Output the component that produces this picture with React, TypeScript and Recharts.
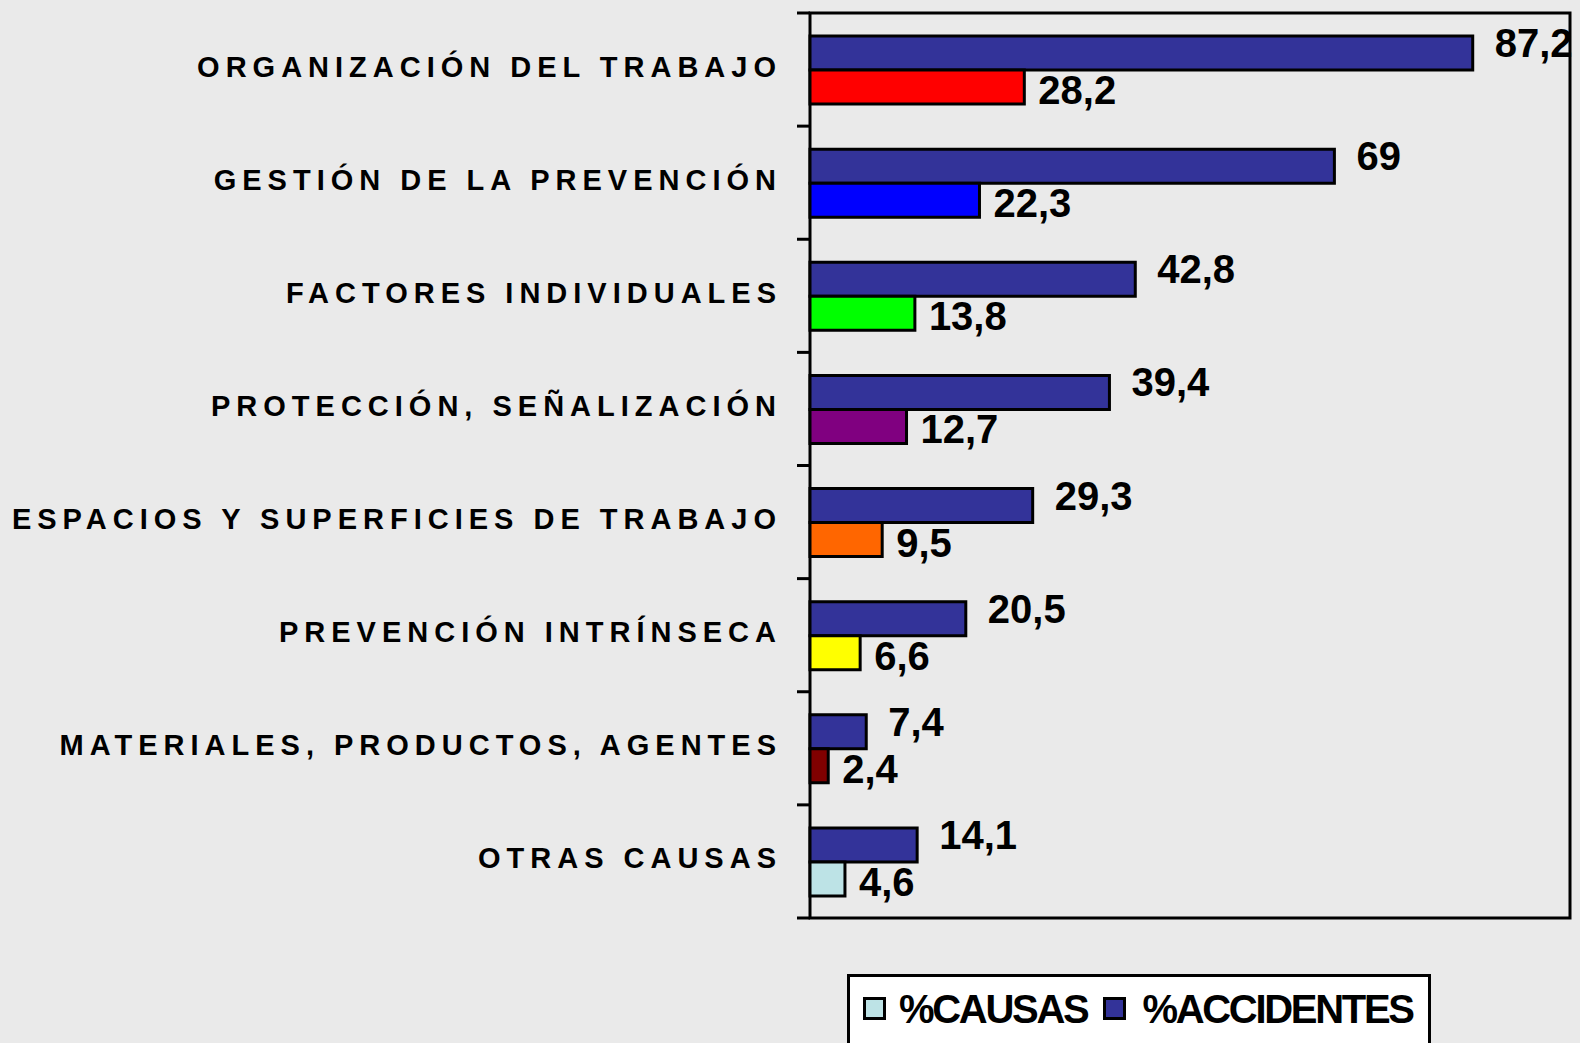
import React from "react";
import {
  Bar,
  BarChart,
  Cell,
  ReferenceArea,
  XAxis,
  YAxis,
} from "recharts";

const categories = [
  "ORGANIZACIÓN DEL TRABAJO",
  "GESTIÓN DE LA PREVENCIÓN",
  "FACTORES INDIVIDUALES",
  "PROTECCIÓN, SEÑALIZACIÓN",
  "ESPACIOS Y SUPERFICIES DE TRABAJO",
  "PREVENCIÓN INTRÍNSECA",
  "MATERIALES, PRODUCTOS, AGENTES",
  "OTRAS CAUSAS",
];

const accidentes = [87.2, 69, 42.8, 39.4, 29.3, 20.5, 7.4, 14.1];
const causas = [28.2, 22.3, 13.8, 12.7, 9.5, 6.6, 2.4, 4.6];

const causasColors = [
  "#FF0000",
  "#0000FF",
  "#00FF00",
  "#800080",
  "#FF6600",
  "#FFFF00",
  "#800000",
  "#BDE3E6",
];
const ACC_COLOR = "#333399";

const data = categories.map((name, i) => ({
  name,
  accidentes: accidentes[i],
  causas: causas[i],
}));

const WIDTH = 1580;
const HEIGHT = 1043;
const MARGIN = { top: 13, right: 10, bottom: 125, left: 0 };
const AXIS_W = 810;
const BAND = (HEIGHT - MARGIN.top - MARGIN.bottom) / categories.length;

const FONT = "'Liberation Sans', Arial, sans-serif";

// coma decimal como en el original
const fmt = (v: number) => String(v).replace(".", ",");

const CategoryTick = (props: any) => {
  const { x, y, payload, index } = props;
  const last = index === categories.length - 1;
  return (
    <g>
      <line x1={x - 13} x2={x} y1={y - BAND / 2} y2={y - BAND / 2} stroke="#000" strokeWidth={3} />
      {last && (
        <line x1={x - 13} x2={x} y1={y + BAND / 2} y2={y + BAND / 2} stroke="#000" strokeWidth={3} />
      )}
      <text
        x={x - 28}
        y={y + 7}
        textAnchor="end"
        fontFamily={FONT}
        fontWeight="bold"
        fontSize={29}
        letterSpacing={6}
        fill="#000"
      >
        {payload.value}
      </text>
    </g>
  );
};

const accLabel = (props: any) => {
  const { x, y, width, height, value } = props;
  return (
    <text
      x={x + width + 22}
      y={y + height / 2 + 4}
      fontFamily={FONT}
      fontWeight="bold"
      fontSize={40}
      fill="#000"
    >
      {fmt(value)}
    </text>
  );
};

const causasLabel = (props: any) => {
  const { x, y, width, height, value } = props;
  return (
    <text
      x={x + width + 14}
      y={y + height / 2 + 17}
      fontFamily={FONT}
      fontWeight="bold"
      fontSize={40}
      fill="#000"
    >
      {fmt(value)}
    </text>
  );
};

const Swatch = ({ color }: { color: string }) => (
  <span
    style={{
      display: "inline-block",
      width: 23,
      height: 23,
      boxSizing: "border-box",
      border: "3px solid #000",
      background: color,
    }}
  />
);

export default function App() {
  return (
    <div
      style={{
        position: "absolute",
        left: 0,
        top: 0,
        width: WIDTH,
        height: HEIGHT,
        background: "#EAEAEA",
        overflow: "hidden",
      }}
    >
      <BarChart
        width={WIDTH}
        height={HEIGHT}
        data={data}
        layout="vertical"
        margin={MARGIN}
        barGap={0}
      >
        <XAxis type="number" domain={[0, 100]} hide />
        <YAxis
          type="category"
          dataKey="name"
          width={AXIS_W}
          axisLine={false}
          tickLine={false}
          tickSize={0}
          tickMargin={0}
          interval={0}
          tick={<CategoryTick />}
        />
        <ReferenceArea x1={0} x2={100} fill="none" stroke="#000" strokeWidth={3} />
        <Bar
          dataKey="accidentes"
          fill={ACC_COLOR}
          stroke="#000"
          strokeWidth={3}
          barSize={34}
          isAnimationActive={false}
          label={accLabel}
        />
        <Bar
          dataKey="causas"
          stroke="#000"
          strokeWidth={3}
          barSize={34}
          isAnimationActive={false}
          label={causasLabel}
        >
          {data.map((_, i) => (
            <Cell key={i} fill={causasColors[i]} />
          ))}
        </Bar>
      </BarChart>

      <div
        style={{
          position: "absolute",
          left: 847,
          top: 974,
          width: 584,
          height: 100,
          boxSizing: "border-box",
          border: "3px solid #000",
          background: "#fff",
          display: "flex",
          alignItems: "center",
          paddingLeft: 13,
          paddingBottom: 31,
          fontFamily: FONT,
          fontWeight: "bold",
          fontSize: 40,
          lineHeight: "40px",
          letterSpacing: -2.3,
          color: "#000",
        }}
      >
        <Swatch color={causasColors[7]} />
        <span style={{ marginLeft: 13 }}>%CAUSAS</span>
        <span style={{ marginLeft: 16, display: "inline-flex" }}>
          <Swatch color={ACC_COLOR} />
        </span>
        <span style={{ marginLeft: 16 }}>%ACCIDENTES</span>
      </div>
    </div>
  );
}
